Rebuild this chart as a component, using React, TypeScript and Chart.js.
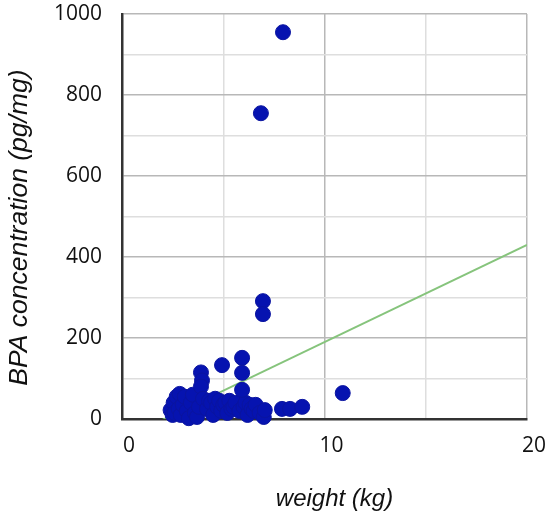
import React, { useEffect, useRef } from "react";
import { Chart, registerables } from "chart.js";

Chart.register(...registerables);

// weight (kg)
const weightKg: number[] = [
  2.4, 2.5, 2.55, 2.6, 2.7, 2.8, 2.85, 2.9, 3.0, 3.1, 3.2, 3.3, 3.4, 3.5, 3.6, 3.7, 3.8,
  3.9, 3.95, 3.9, 4.0,
  4.2, 4.3, 4.4, 4.5, 4.6, 4.7, 4.8, 4.9, 5.0, 5.1, 5.2, 5.3, 5.4, 5.5, 5.6, 5.8, 6.0, 6.1, 6.2, 6.3, 6.4, 6.5, 6.6, 6.8, 7.0, 7.05,
  4.94, 5.93, 5.93, 5.93,
  7.9, 8.3, 8.9, 10.9,
  6.96, 6.96, 6.86, 7.95,
];
// BPA concentration (pg/mg)
const bpaConc: number[] = [
  22, 10, 40, 15, 55, 25, 62, 10, 35, 55, 20, 2, 40, 60, 15, 5, 30,
  115, 95, 80, 50,
  25, 45, 40, 10, 50, 30, 45, 20, 35, 40, 15, 45, 25, 30, 40, 20, 30, 40, 10, 35, 25, 20, 35, 15, 5, 22,
  133, 151, 114, 72,
  25, 25, 30, 64,
  291, 259, 755, 955,
];
// linear trend line end points
const trendX: number[] = [2, 20];
const trendY: number[] = [-2, 430];

const xTicks = [0, 5, 10, 15, 20];
const xLabeled = [0, 10, 20];
const yLabeledStep = 200;

export default function App() {
  const ref = useRef<HTMLCanvasElement | null>(null);
  useEffect(() => {
    if (!ref.current) return;
    const pts = weightKg.map((x, i) => ({ x, y: bpaConc[i] }));
    const line = trendX.map((x, i) => ({ x, y: trendY[i] }));
    const chart = new Chart(ref.current, {
      type: "scatter",
      data: {
        datasets: [
          {
            type: "line",
            data: line,
            borderColor: "#86c47c",
            borderWidth: 2,
            pointRadius: 0,
            fill: false,
            order: 2,
          } as any,
          {
            data: pts,
            backgroundColor: "#0613b0",
            borderColor: "#0a14a0",
            borderWidth: 1,
            pointRadius: 7.5,
            pointHoverRadius: 7.5,
            clip: false,
            order: 1,
          } as any,
        ],
      },
      options: {
        animation: false,
        responsive: false,
        events: [],
        layout: { padding: { left: 0, right: 23, top: 14, bottom: 0 } },
        plugins: { legend: { display: false }, tooltip: { enabled: false } },
        scales: {
          x: {
            type: "linear",
            min: 0,
            max: 20,
            afterBuildTicks: (s: any) => {
              s.ticks = xTicks.map((v) => ({ value: v }));
            },
            afterFit: (s: any) => {
              s.height = 102;
              s.paddingLeft = 0;
              s.paddingRight = 0;
            },
            grid: {
              drawTicks: false,
              color: (c: any) => (c.tick && c.tick.value % 10 === 0 ? "#b8b8b8" : "#dedede"),
              lineWidth: 1.5,
            },
            border: { color: "#333", width: 2.5 },
            ticks: {
              padding: 14,
              labelOffset: 7,
              color: "#111",
              font: { family: "Open Sans", size: 21 },
              callback: (v: any) => (xLabeled.includes(Number(v)) ? String(v) : ""),
              maxRotation: 0,
              autoSkip: false,
            },
            title: {
              display: true,
              text: "   weight (kg)",
              color: "#111",
              font: { family: "Liberation Sans", size: 24, style: "italic" },
              padding: { top: 0, bottom: 7 },
            },
          },
          y: {
            type: "linear",
            min: 0,
            max: 1000,
            afterFit: (s: any) => {
              s.width = 122;
              s.paddingTop = 0;
              s.paddingBottom = 0;
            },
            grid: {
              drawTicks: false,
              color: (c: any) => (c.tick && c.tick.value % yLabeledStep === 0 ? "#b8b8b8" : "#dedede"),
              lineWidth: 1.5,
            },
            border: { color: "#333", width: 2.5 },
            ticks: {
              stepSize: 100,
              padding: 20,
              color: "#111",
              font: { family: "Open Sans", size: 21 },
              autoSkip: false,
              callback: (v: any) => (Number(v) % yLabeledStep === 0 ? String(v) : ""),
            },
            title: {
              display: true,
              text: "BPA concentration (pg/mg)   ",
              color: "#111",
              font: { family: "Liberation Sans", size: 26.5, style: "italic" },
              padding: { top: 4, bottom: 0 },
            },
          },
        },
      },
    });
    return () => chart.destroy();
  }, []);
  return (
    <div style={{ position: "absolute", left: 0, top: 0, width: 550, height: 521, background: "#fff" }}>
      <canvas ref={ref} width={550} height={521} style={{ display: "block" }} />
    </div>
  );
}
